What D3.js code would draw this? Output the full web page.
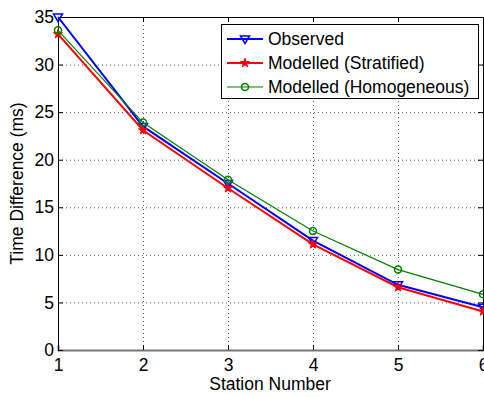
<!DOCTYPE html>
<html>
<head>
<meta charset="utf-8">
<script src="https://cdn.jsdelivr.net/npm/d3@7"></script>
<style>
  body { margin: 0; background: #fff; }
  text { font-family: "Liberation Sans", Arial, sans-serif; }
</style>
</head>
<body>
<div id="chart"></div>
<script>
var stations = [1, 2, 3, 4, 5, 6];
var observed = [35.0, 23.5, 17.5, 11.5, 6.85, 4.5];
var stratified = [33.2, 23.1, 17.0, 11.1, 6.6, 4.05];
var homogeneous = [33.6, 23.9, 17.9, 12.5, 8.45, 5.85];
var xTicks = [1, 2, 3, 4, 5, 6];
var yTicks = [0, 5, 10, 15, 20, 25, 30, 35];

var width = 484, height = 397;
var pLeft = 58, pRight = 483, pTop = 17, pBottom = 350;
var fontSize = "17.5px";

var svg = d3.select("#chart").append("svg")
    .attr("width", width)
    .attr("height", height);

var x = d3.scaleLinear().domain([1, 6]).range([pLeft, pRight]);
var y = d3.scaleLinear().domain([0, 35]).range([pBottom, pTop]);

// grid
svg.append("g").selectAll("line")
    .data(xTicks.slice(1, -1))
    .enter().append("line")
    .attr("x1", function(d) { return x(d) + 0.5; })
    .attr("x2", function(d) { return x(d) + 0.5; })
    .attr("y1", pTop).attr("y2", pBottom)
    .style("stroke", "#555")
    .style("stroke-width", 1)
    .style("stroke-dasharray", "1,3");

svg.append("g").selectAll("line")
    .data(yTicks.slice(1, -1))
    .enter().append("line")
    .attr("y1", function(d) { return y(d) + 0.5; })
    .attr("y2", function(d) { return y(d) + 0.5; })
    .attr("x1", pLeft).attr("x2", pRight)
    .style("stroke", "#555")
    .style("stroke-width", 1)
    .style("stroke-dasharray", "1,3");

// axes
var xAxis = svg.append("g")
    .attr("transform", "translate(0," + pBottom + ")")
    .call(d3.axisBottom(x).tickValues(xTicks).tickSize(-5).tickPadding(9).tickFormat(d3.format("d")));
var yAxis = svg.append("g")
    .attr("transform", "translate(" + pLeft + ",0)")
    .call(d3.axisLeft(y).tickValues(yTicks).tickSize(-5).tickPadding(4));
svg.append("g")
    .attr("transform", "translate(0," + pTop + ")")
    .call(d3.axisTop(x).tickValues(xTicks).tickSize(-5).tickFormat(""));
svg.append("g")
    .attr("transform", "translate(" + pRight + ",0)")
    .call(d3.axisRight(y).tickValues(yTicks).tickSize(-5).tickFormat(""));

svg.selectAll(".domain").style("stroke", "#000");
svg.selectAll(".tick line").style("stroke", "#000");
svg.selectAll(".tick text").style("font-size", fontSize).style("fill", "#000")
    .style("font-family", "'Liberation Sans', Arial, sans-serif");
xAxis.select(".domain").style("stroke", "#777").style("stroke-width", 2);

// labels
svg.append("text")
    .attr("x", 270)
    .attr("y", 390)
    .attr("text-anchor", "middle")
    .style("font-size", fontSize)
    .text("Station Number");

svg.append("text")
    .attr("transform", "translate(23," + (pTop + pBottom) / 2 + ")rotate(-90)")
    .attr("text-anchor", "middle")
    .style("font-size", fontSize)
    .text("Time Difference (ms)");

// series
var series = [
  { name: "Observed", values: observed, color: "#0000ff", width: 2, marker: "tri" },
  { name: "Modelled (Stratified)", values: stratified, color: "#ff0000", width: 2, marker: "star" },
  { name: "Modelled (Homogeneous)", values: homogeneous, color: "#008000", width: 1.2, marker: "circle" }
];

var line = d3.line()
    .x(function(d, i) { return x(stations[i]); })
    .y(function(d) { return y(d); });

function drawMarker(g, type, cx, cy, color) {
  if (type == "tri") {
    g.append("path")
      .attr("d", "M" + (cx - 4.5) + "," + (cy - 3) + "L" + (cx + 4.5) + "," + (cy - 3) + "L" + cx + "," + (cy + 4.5) + "Z")
      .style("fill", "none").style("stroke", color).style("stroke-width", 1.5);
  } else if (type == "star") {
    g.append("path")
      .attr("d", d3.symbol().type(d3.symbolStar).size(25)())
      .attr("transform", "translate(" + cx + "," + cy + ")")
      .style("fill", color).style("stroke", color).style("stroke-width", 1);
  } else {
    g.append("circle")
      .attr("cx", cx).attr("cy", cy).attr("r", 3.5)
      .style("fill", "none").style("stroke", color).style("stroke-width", 1.5);
  }
}

series.forEach(function(s) {
  var g = svg.append("g");
  g.append("path")
    .datum(s.values)
    .attr("d", line)
    .style("fill", "none")
    .style("stroke", s.color)
    .style("stroke-width", s.width);
  s.values.forEach(function(v, i) {
    drawMarker(g, s.marker, x(stations[i]), y(v), s.color);
  });
});

// legend
var legend = svg.append("g");
legend.append("rect")
    .attr("x", 221.5).attr("y", 24.5)
    .attr("width", 257).attr("height", 74)
    .style("fill", "#fff").style("stroke", "#000").style("stroke-width", 1);

series.forEach(function(s, i) {
  var ly = 39 + i * 24;
  legend.append("line")
    .attr("x1", 227).attr("x2", 263)
    .attr("y1", ly).attr("y2", ly)
    .style("stroke", s.color).style("stroke-width", s.width);
  drawMarker(legend, s.marker, 245, ly, s.color);
  legend.append("text")
    .attr("x", 268).attr("y", ly + 6)
    .style("font-size", fontSize)
    .text(s.name);
});
</script>
</body>
</html>
